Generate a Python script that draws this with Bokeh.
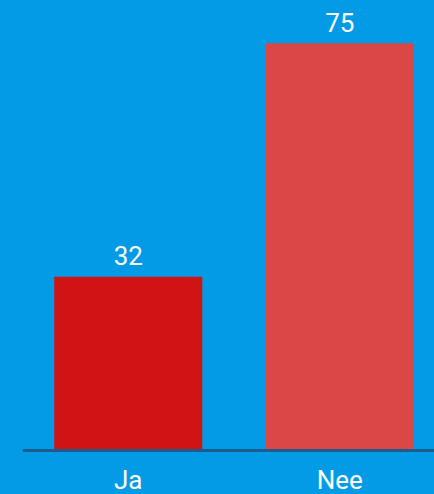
from bokeh.plotting import figure
from bokeh.models import ColumnDataSource, Range1d, Span
from bokeh.core.properties import value
from bokeh.embed import file_html
from bokeh.resources import INLINE

# Data
categories = ["Ja", "Nee"]
counts = [32, 75]
bar_colors = ["#d01414", "#db4646"]

BG = "#039be5"
FONT = "Roboto"

xs = [i + 0.5 for i in range(len(categories))]
labels = [str(v) for v in counts]
src = ColumnDataSource(dict(x=xs, top=counts, color=bar_colors, cat=categories, lab=labels,
                            zero=[0] * len(categories)))

p = figure(width=434, height=494, output_backend="svg", toolbar_location=None,
           x_range=Range1d(0, 1.948), y_range=Range1d(-8.1, 82.87),
           min_border_left=22, min_border_right=0, min_border_top=0, min_border_bottom=0)
p.axis.visible = False
p.grid.visible = False
p.outline_line_color = None
p.background_fill_color = BG
p.border_fill_color = BG

p.vbar(x="x", top="top", bottom=0, width=0.7, color="color", line_color=None, source=src)

p.add_layout(Span(location=0, dimension="width", line_color="#1b5b8e", line_width=3))

p.text(x="x", y="top", text="lab", source=src, text_align="center", text_baseline="alphabetic",
       y_offset=-21, text_color="#ffffff", text_font=value(FONT), text_font_size="26px")
p.text(x="x", y="zero", text="cat", source=src, text_align="center", text_baseline="alphabetic",
       y_offset=29, text_color="#ffffff", text_font=value(FONT), text_font_size="26px")

html = file_html(p, INLINE)
html = html.replace("<head>", "<head><style>html,body{margin:0 !important;padding:0;background:%s;overflow:hidden}</style>" % BG, 1)
open("out.html", "w").write(html)
